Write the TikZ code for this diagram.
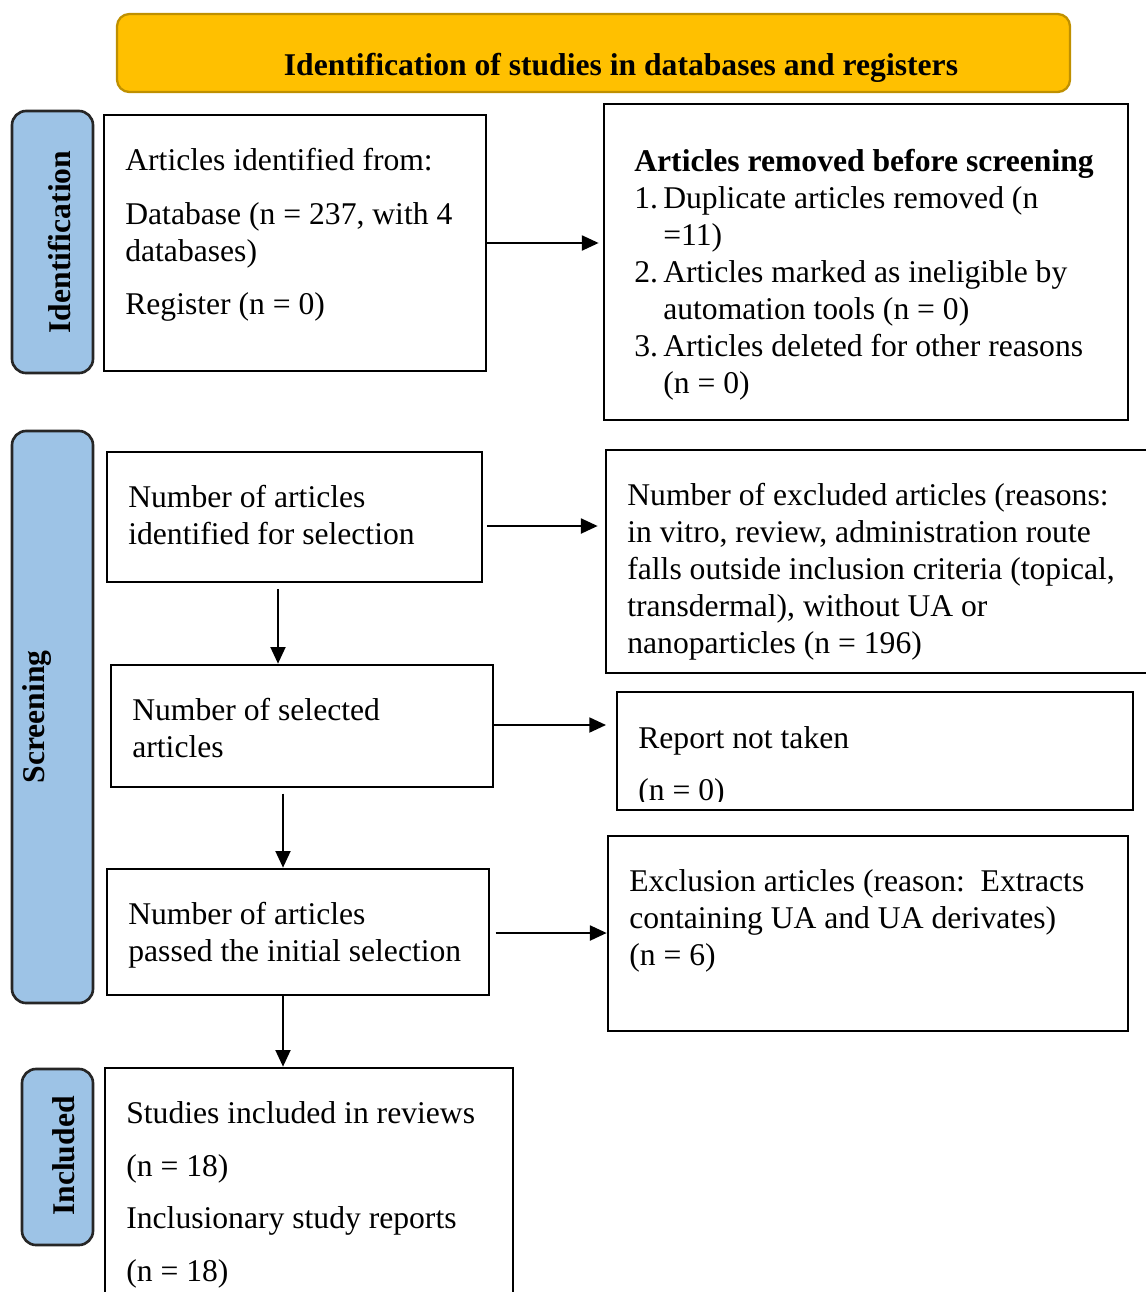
\documentclass[tikz,border=0pt]{standalone}
\usepackage{fontspec}
\setmainfont{Liberation Serif}
\usetikzlibrary{arrows.meta,fit}
\definecolor{titlefill}{HTML}{FFC000}
\definecolor{titleline}{HTML}{BF9000}
\definecolor{sidefill}{HTML}{9DC3E6}
\newcommand{\bodysize}{\fontsize{18}{21}\selectfont}
\newcommand{\numitem}[1]{\makebox[16.5pt][l]{#1}}
\tikzset{
  box/.style={draw, line width=1.5pt, inner sep=0pt},
  titlebox/.style={draw=titleline, fill=titlefill, line width=1.3pt, rounded corners=7pt, inner sep=0pt},
  sidebox/.style={draw=black!85, fill=sidefill, line width=1.5pt, rounded corners=8pt, inner sep=0pt},
  sidetext/.style={rotate=90, font=\bodysize\bfseries, inner sep=0pt},
  txt/.style={anchor=north west, align=left, inner sep=0pt, font=\bodysize},
  arr/.style={-{Triangle[length=9.5pt,width=8.5pt]}, line width=1.2pt},
}

\begin{document}
\begin{tikzpicture}[x=0.02cm, y=-0.02cm]
	%%%%% START %%%%%
	\useasboundingbox (0,0) rectangle (1146,1292);
	
	% title bar
	\node[titlebox, fit={(117,14) (1070,92)}] (title) {};
	\node[font=\bodysize\bfseries, anchor=base, inner sep=0pt] (title-txt) at (621,75) {Identification of studies in databases and registers};
	
	% stage labels
	\node[sidebox, fit={(12,111) (93,373)}] (stage-id) {};
	\node[sidetext] (stage-id-txt) at (60,242) {Identification};
	\node[sidebox, fit={(12,431) (93,1003)}] (stage-scr) {};
	\node[sidetext] (stage-scr-txt) at (37,717) {Screening};
	\node[sidebox, fit={(22,1069) (93,1245)}] (stage-inc) {};
	\node[sidetext] (stage-inc-txt) at (64,1156) {Included};
	
	% identification
	\node[box, fit={(104,115) (486,371)}] (ident) {};
	\node[txt] (ident-txt) at (125,148) {Articles identified from:\\[9.5pt]
		Database (n = 237, with 4\\databases)\\[9.5pt]
		Register (n = 0)};
	
	\node[box, fit={(604,104) (1128,420)}] (removed) {};
	\node[txt] (removed-txt) at (634,149) {\textbf{Articles removed before screening}\\
		\numitem{1.}Duplicate articles removed (n\\
		\hspace*{16.5pt}=11)\\
		\numitem{2.}Articles marked as ineligible by\\
		\hspace*{16.5pt}automation tools (n = 0)\\
		\numitem{3.}Articles deleted for other reasons\\
		\hspace*{16.5pt}(n = 0)};
	
	% screening
	\node[box, fit={(107,452) (482,582)}] (ids) {};
	\node[txt] (ids-txt) at (128,485) {Number of articles\\identified for selection};
	
	\node[box, fit={(606,450) (1160,673)}] (excl) {};
	\node[txt] (excl-txt) at (627,483) {Number of excluded articles (reasons:\\
		in vitro, review, administration route\\
		falls outside inclusion criteria (topical,\\
		transdermal), without UA or\\
		nanoparticles (n = 196)};
	
	\node[box, fit={(111,665) (493,787)}] (sel) {};
	\node[txt] (sel-txt) at (132,698) {Number of selected\\articles};
	
	\node[box, fit={(617,692) (1133,810)}] (notaken) {};
	\begin{scope}
		\clip (617,692) rectangle (1133,801);
		\node[txt] (notaken-txt) at (638,726) {Report not taken\\[8.5pt](n = 0)};
	\end{scope}
	
	\node[box, fit={(107,869) (489,995)}] (passed) {};
	\node[txt] (passed-txt) at (128,902) {Number of articles\\passed the initial selection};
	
	\node[box, fit={(608,836) (1128,1031)}] (extr) {};
	\node[txt] (extr-txt) at (629,869) {Exclusion articles (reason:\ \ Extracts\\
		containing UA and UA derivates)\\(n = 6)};
	
	% included
	\node[box, fit={(105,1068) (513,1320)}] (incl) {};
	\node[txt, font=\fontsize{18}{30}\selectfont] (incl-txt) at (126,1101) {Studies included in reviews\\
		(n = 18)\\Inclusionary study reports\\(n = 18)};
	
	% arrows
	\draw[arr, shorten >=2.3pt] (ident.east) -- (ident.east -| removed.west);
	\draw[arr, shorten <=2pt, shorten >=4pt] (ids.east |- 0,526) -- (excl.west |- 0,526);
	\draw[arr, shorten <=3.4pt] (278,0 |- ids.south) -- (278,0 |- sel.north);
	\draw[arr, shorten >=5.5pt] (sel.east |- 0,725) -- (notaken.west |- 0,725);
	\draw[arr, shorten <=3pt] (283,0 |- sel.south) -- (283,0 |- passed.north);
	\draw[arr, shorten <=3pt] (passed.east |- 0,933) -- (extr.west |- 0,933);
	\draw[arr] (283,0 |- passed.south) -- (283,0 |- incl.north);
	%%%%% END %%%%%
\end{tikzpicture}
\end{document}
